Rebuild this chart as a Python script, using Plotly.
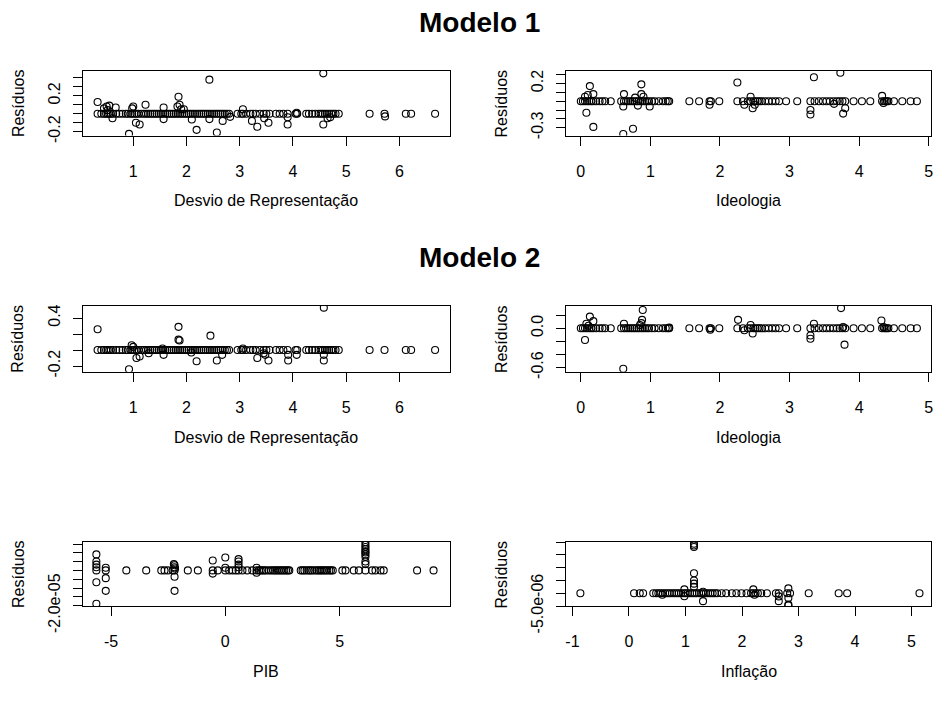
import plotly.graph_objects as go

W, H = 938, 713

# ---------------- data ----------------
# Desvio de Representação – Modelo 1 residuals
desvio_m1 = [
    (0.33, 0), (0.40, 0), (0.45, 0), (0.49, 0), (0.52, 0), (0.55, 0), (0.58, 0), (0.62, 0), (0.68, 0),
    (0.74, 0), (0.80, 0), (0.86, 0), (0.90, 0), (0.95, 0), (0.98, 0), (1.02, 0), (1.06, 0), (1.10, 0),
    (1.15, 0), (1.20, 0), (1.24, 0), (1.28, 0), (1.32, 0), (1.36, 0), (1.40, 0), (1.44, 0), (1.48, 0),
    (1.52, 0), (1.56, 0), (1.60, 0), (1.64, 0), (1.68, 0), (1.72, 0), (1.76, 0), (1.80, 0), (1.84, 0),
    (1.88, 0), (1.92, 0), (1.96, 0), (2.00, 0), (2.04, 0), (2.08, 0), (2.12, 0), (2.16, 0), (2.20, 0),
    (2.24, 0), (2.28, 0), (2.32, 0), (2.36, 0), (2.40, 0), (2.44, 0), (2.48, 0), (2.52, 0), (2.56, 0),
    (2.60, 0), (2.64, 0), (2.68, 0), (2.72, 0), (2.76, 0), (2.80, 0), (2.96, 0), (3.03, 0), (3.06, 0),
    (3.12, 0), (3.20, 0), (3.25, 0), (3.30, 0), (3.38, 0), (3.45, 0), (3.50, 0), (3.56, 0), (3.68, 0),
    (3.75, 0), (3.82, 0), (3.90, 0), (4.05, 0), (4.08, 0), (4.25, 0), (4.30, 0), (4.36, 0), (4.42, 0),
    (4.48, 0), (4.52, 0), (4.56, 0), (4.60, 0), (4.64, 0), (4.68, 0), (4.72, 0), (4.76, 0), (4.80, 0),
    (4.86, 0), (5.44, 0), (5.72, 0), (6.12, 0), (6.22, 0), (6.67, 0),
    (0.33, 0.13), (0.45, 0.06), (0.50, 0.08), (0.55, 0.09), (0.52, 0.04), (0.61, -0.05), (0.67, 0.07),
    (0.92, -0.225), (0.98, 0.06), (1.00, 0.08), (1.05, -0.10), (1.12, -0.12), (1.23, 0.10), (1.57, 0.07),
    (1.57, -0.06), (1.85, 0.19), (1.83, 0.08), (1.87, 0.10), (1.90, 0.05), (1.95, 0.05), (2.10, -0.065),
    (2.19, -0.18), (2.43, 0.38), (2.43, -0.06), (2.57, -0.21), (2.68, -0.08), (2.82, -0.035), (3.06, 0.05),
    (3.23, -0.08), (3.33, -0.145), (3.46, -0.05), (3.54, -0.10), (3.90, -0.12), (3.90, -0.04), (4.07, 0.01),
    (4.57, 0.45), (4.57, -0.12), (4.65, -0.05), (4.70, -0.04), (5.73, -0.03),
]

# Ideologia – Modelo 1 residuals
ideologia_m1 = [
    (0.00, 0), (0.03, 0), (0.06, 0), (0.09, 0), (0.12, 0), (0.15, 0), (0.18, 0), (0.22, 0), (0.27, 0),
    (0.31, 0), (0.35, 0), (0.43, 0), (0.58, 0), (0.62, 0), (0.65, 0), (0.68, 0), (0.71, 0), (0.74, 0),
    (0.77, 0), (0.80, 0), (0.83, 0), (0.86, 0), (0.89, 0), (0.92, 0), (0.95, 0), (0.98, 0), (1.02, 0),
    (1.06, 0), (1.12, 0), (1.18, 0), (1.22, 0), (1.25, 0), (1.27, 0), (1.56, 0), (1.70, 0), (1.85, 0),
    (1.87, 0), (1.99, 0), (2.25, 0), (2.33, 0), (2.40, 0), (2.44, 0), (2.48, 0), (2.51, 0), (2.54, 0),
    (2.57, 0), (2.60, 0), (2.65, 0), (2.70, 0), (2.75, 0), (2.80, 0), (2.85, 0), (2.95, 0), (3.11, 0),
    (3.30, 0), (3.36, 0), (3.42, 0), (3.48, 0), (3.53, 0), (3.58, 0), (3.63, 0), (3.68, 0), (3.72, 0),
    (3.76, 0), (3.80, 0), (3.92, 0), (4.04, 0), (4.16, 0), (4.33, 0), (4.36, 0), (4.38, 0), (4.40, 0),
    (4.42, 0), (4.50, 0), (4.62, 0), (4.74, 0), (4.83, 0),
    (0.13, 0.17), (0.06, 0.05), (0.10, 0.07), (0.18, 0.08), (0.08, -0.13), (0.18, -0.29), (0.61, -0.37),
    (0.75, -0.31), (0.62, 0.08), (0.61, -0.06), (0.87, 0.19), (0.87, 0.08), (0.90, 0.05), (0.82, -0.05),
    (0.78, 0.04), (0.99, -0.06), (1.85, -0.04), (2.25, 0.21), (2.35, -0.04), (2.44, 0.05), (2.47, -0.08),
    (2.50, -0.04), (3.30, -0.10), (3.30, -0.15), (3.35, 0.27), (3.73, 0.32), (3.77, -0.14), (3.80, -0.08),
    (3.64, -0.03), (4.33, 0.06), (4.35, -0.02),
]

# Desvio de Representação – Modelo 2 residuals
desvio_m2 = [
    (0.33, 0), (0.40, 0), (0.45, 0), (0.49, 0), (0.52, 0), (0.55, 0), (0.58, 0), (0.62, 0), (0.68, 0),
    (0.74, 0), (0.80, 0), (0.86, 0), (0.90, 0), (0.95, 0), (0.98, 0), (1.02, 0), (1.06, 0), (1.10, 0),
    (1.15, 0), (1.20, 0), (1.24, 0), (1.28, 0), (1.32, 0), (1.36, 0), (1.40, 0), (1.44, 0), (1.48, 0),
    (1.52, 0), (1.56, 0), (1.60, 0), (1.64, 0), (1.68, 0), (1.72, 0), (1.76, 0), (1.80, 0), (1.84, 0),
    (1.88, 0), (1.92, 0), (1.96, 0), (2.00, 0), (2.04, 0), (2.08, 0), (2.12, 0), (2.16, 0), (2.20, 0),
    (2.24, 0), (2.28, 0), (2.32, 0), (2.36, 0), (2.40, 0), (2.44, 0), (2.48, 0), (2.52, 0), (2.56, 0),
    (2.60, 0), (2.64, 0), (2.68, 0), (2.72, 0), (2.76, 0), (2.80, 0), (2.96, 0), (3.03, 0), (3.06, 0),
    (3.12, 0), (3.20, 0), (3.25, 0), (3.30, 0), (3.38, 0), (3.45, 0), (3.50, 0), (3.56, 0), (3.68, 0),
    (3.75, 0), (3.82, 0), (3.90, 0), (4.05, 0), (4.08, 0), (4.25, 0), (4.30, 0), (4.36, 0), (4.42, 0),
    (4.48, 0), (4.52, 0), (4.56, 0), (4.60, 0), (4.64, 0), (4.68, 0), (4.72, 0), (4.76, 0), (4.80, 0),
    (4.86, 0), (5.44, 0), (5.72, 0), (6.12, 0), (6.22, 0), (6.67, 0),
    (0.33, 0.26), (0.92, -0.24), (0.97, 0.06), (1.00, 0.04), (1.06, -0.10), (1.12, -0.08), (1.29, -0.04),
    (1.57, -0.06), (1.55, 0.02), (1.85, 0.29), (1.85, 0.13), (1.87, 0.12), (2.09, -0.03), (2.19, -0.14),
    (2.45, 0.18), (2.57, -0.13), (2.67, -0.06), (3.06, 0.02), (3.33, -0.10), (3.45, -0.04), (3.48, -0.06),
    (3.54, -0.13), (3.91, -0.13), (3.91, -0.06), (4.07, -0.06), (4.58, 0.53), (4.58, -0.13), (4.58, -0.06),
]

# Ideologia – Modelo 2 residuals
ideologia_m2 = [
    (0.00, 0), (0.03, 0), (0.06, 0), (0.09, 0), (0.12, 0), (0.15, 0), (0.18, 0), (0.22, 0), (0.27, 0),
    (0.31, 0), (0.35, 0), (0.43, 0), (0.58, 0), (0.62, 0), (0.65, 0), (0.68, 0), (0.71, 0), (0.74, 0),
    (0.77, 0), (0.80, 0), (0.83, 0), (0.86, 0), (0.89, 0), (0.92, 0), (0.95, 0), (0.98, 0), (1.02, 0),
    (1.06, 0), (1.12, 0), (1.18, 0), (1.22, 0), (1.25, 0), (1.27, 0), (1.56, 0), (1.70, 0), (1.85, 0),
    (1.87, 0), (1.99, 0), (2.25, 0), (2.33, 0), (2.40, 0), (2.44, 0), (2.48, 0), (2.51, 0), (2.54, 0),
    (2.57, 0), (2.60, 0), (2.65, 0), (2.70, 0), (2.75, 0), (2.80, 0), (2.85, 0), (2.95, 0), (3.11, 0),
    (3.30, 0), (3.36, 0), (3.42, 0), (3.48, 0), (3.53, 0), (3.58, 0), (3.63, 0), (3.68, 0), (3.72, 0),
    (3.76, 0), (3.80, 0), (3.92, 0), (4.04, 0), (4.16, 0), (4.33, 0), (4.36, 0), (4.38, 0), (4.40, 0),
    (4.42, 0), (4.50, 0), (4.62, 0), (4.74, 0), (4.83, 0),
    (0.13, 0.18), (0.18, 0.11), (0.08, 0.07), (0.11, 0.04), (0.06, -0.18), (0.61, -0.62), (0.62, 0.07),
    (0.89, 0.28), (0.88, 0.13), (0.87, 0.08), (0.85, 0.05), (1.27, 0.01), (1.86, -0.02), (2.26, 0.13),
    (2.35, -0.03), (2.44, 0.05), (2.47, -0.08), (3.30, -0.11), (3.30, -0.16), (3.35, 0.07), (3.74, 0.31),
    (3.77, 0.02), (3.79, -0.25), (4.32, 0.12), (4.35, 0.02),
]

# PIB residuals
pib = [
    (-5.64, 0), (-5.23, 0), (-4.33, 0), (-3.46, 0), (-2.80, 0), (-2.66, 0), (-2.51, 0), (-2.30, 0),
    (-2.22, 0), (-1.64, 0), (-1.20, 0), (-0.55, 0), (-0.33, 0), (0.00, 0), (0.17, 0), (0.32, 0),
    (0.46, 0), (0.58, 0), (0.75, 0), (0.96, 0), (1.18, 0), (1.37, 0), (1.48, 0), (1.55, 0), (1.62, 0),
    (1.70, 0), (1.78, 0), (1.90, 0), (2.00, 0), (2.10, 0), (2.18, 0), (2.26, 0), (2.34, 0), (2.42, 0),
    (2.50, 0), (2.58, 0), (2.66, 0), (2.74, 0), (2.80, 0), (3.30, 0), (3.38, 0), (3.46, 0), (3.56, 0),
    (3.65, 0), (3.72, 0), (3.80, 0), (3.90, 0), (4.00, 0), (4.08, 0), (4.15, 0), (4.22, 0), (4.30, 0),
    (4.38, 0), (4.46, 0), (4.55, 0), (4.62, 0), (4.70, 0), (5.12, 0), (5.26, 0), (5.62, 0), (5.84, 0),
    (6.13, 0), (6.42, 0), (6.57, 0), (6.79, 0), (6.93, 0), (8.39, 0), (9.11, 0),
    (-5.64, 9.1e-6), (-5.64, 5.1e-6), (-5.64, 3.3e-6), (-5.64, 1.8e-6), (-5.64, -6.7e-6), (-5.64, -1.89e-5),
    (-5.23, 1.5e-6), (-5.23, -4.4e-6), (-5.23, -1.16e-5), (-2.25, 3.6e-6), (-2.22, 2.9e-6), (-2.22, 1.8e-6),
    (-2.20, 1.1e-6), (-2.22, -3.6e-6), (-2.22, -1.16e-5), (-0.55, 5.6e-6), (-0.55, -1.8e-6), (0.00, 7.3e-6),
    (0.00, 1.5e-6), (0.58, 6.4e-6), (0.58, 5.1e-6), (0.58, 3.3e-6), (0.58, 1.8e-6), (1.37, 1.5e-6),
    (1.37, -1.3e-6), (6.13, 1.6e-5), (6.13, 1.45e-5), (6.13, 1.33e-5), (6.13, 1.2e-5), (6.13, 1.09e-5),
    (6.13, 1.02e-5), (6.13, 9.1e-6), (6.13, 7.8e-6), (6.13, 5.1e-6), (6.13, 3.6e-6),
]

# Inflação residuals
inflacao = [
    (-0.86, 0), (0.09, 0), (0.19, 0), (0.25, 0), (0.43, 0), (0.48, 0), (0.52, 0), (0.56, 0), (0.60, 0),
    (0.64, 0), (0.68, 0), (0.72, 0), (0.76, 0), (0.80, 0), (0.84, 0), (0.88, 0), (0.92, 0), (0.96, 0),
    (1.00, 0), (1.04, 0), (1.08, 0), (1.12, 0), (1.16, 0), (1.20, 0), (1.24, 0), (1.28, 0), (1.32, 0),
    (1.36, 0), (1.40, 0), (1.44, 0), (1.48, 0), (1.52, 0), (1.56, 0), (1.64, 0), (1.72, 0), (1.82, 0),
    (1.90, 0), (1.99, 0), (2.08, 0), (2.16, 0), (2.20, 0), (2.24, 0), (2.28, 0), (2.34, 0), (2.44, 0),
    (2.60, 0), (2.65, 0), (2.80, 0), (2.85, 0), (3.18, 0), (3.71, 0), (3.86, 0), (5.14, 0),
    (0.59, -6e-7), (0.98, 1.5e-6), (0.98, -1.2e-6), (1.15, 1.94e-5), (1.15, 1.87e-5), (1.15, 1.81e-5),
    (1.15, 7.8e-6), (1.15, 5.0e-6), (1.15, 3.75e-6), (1.15, 2.5e-6), (1.31, -3.1e-6), (1.31, 6e-7),
    (2.20, 1.5e-6), (2.22, -6e-7), (2.65, -1.25e-6), (2.65, -3.1e-6), (2.82, 1.9e-6), (2.82, -1.9e-6),
    (2.82, -4.4e-6), (2.82, -4.8e-6),
]

# tick labels
x_ticks_desvio = [1, 2, 3, 4, 5, 6]
x_ticks_ideologia = [0, 1, 2, 3, 4, 5]
x_ticks_pib = [-5, 0, 5]
x_ticks_inflacao = [-1, 0, 1, 2, 3, 4, 5]

y_ticks_p1 = [-0.2, -0.1, 0.0, 0.1, 0.2, 0.3, 0.4]
y_text_p1 = ["-0.2", "", "", "", "0.2", "", ""]
y_ticks_p2 = [-0.3, -0.2, -0.1, 0.0, 0.1, 0.2, 0.3]
y_text_p2 = ["-0.3", "", "", "", "", "0.2", ""]
y_ticks_p3 = [-0.2, 0.0, 0.2, 0.4]
y_text_p3 = ["-0.2", "", "", "0.4"]
y_ticks_p4 = [-0.6, -0.4, -0.2, 0.0, 0.2]
y_text_p4 = ["-0.6", "", "", "0.0", ""]
y_ticks_p5 = [-2.0e-5, -1.5e-5, -1.0e-5, -5e-6, 0.0, 5e-6, 1.0e-5, 1.5e-5]
y_text_p5 = ["-2.0e-05", "", "", "", "", "", "", ""]
y_ticks_p6 = [-5e-6, 0.0, 5e-6, 1.0e-5, 1.5e-5, 2.0e-5]
y_text_p6 = ["-5.0e-06", "", "", "", "", ""]

titles = ["Modelo 1", "Modelo 2"]
x_titles = ["Desvio de Representação", "Ideologia", "Desvio de Representação", "Ideologia", "PIB", "Inflação"]
y_title = "Resíduos"

# ---------------- layout (pixel geometry) ----------------
cols = [(82.7, 450.0), (567.3, 933.0)]
rows = [(72.7, 140.0), (317.0, 386.0), (563.0, 630.0)]

panels = [
    dict(data=desvio_m1, xr=[0.064, 6.942], yr=[-0.243, 0.478], xt=x_ticks_desvio, yt=y_ticks_p1, ytt=y_text_p1),
    dict(data=ideologia_m1, xr=[-0.206, 5.033], yr=[-0.387, 0.342], xt=x_ticks_ideologia, yt=y_ticks_p2, ytt=y_text_p2),
    dict(data=desvio_m2, xr=[0.064, 6.942], yr=[-0.272, 0.556], xt=x_ticks_desvio, yt=y_ticks_p3, ytt=y_text_p3),
    dict(data=ideologia_m2, xr=[-0.206, 5.033], yr=[-0.667, 0.349], xt=x_ticks_ideologia, yt=y_ticks_p4, ytt=y_text_p4),
    dict(data=pib, xr=[-6.206, 9.81], yr=[-2.035e-5, 1.62e-5], xt=x_ticks_pib, yt=y_ticks_p5, ytt=y_text_p5),
    dict(data=inflacao, xr=[-1.106, 5.344], yr=[-5.1e-6, 2.01e-5], xt=x_ticks_inflacao, yt=y_ticks_p6, ytt=y_text_p6),
]

FONT = "Liberation Sans, Arial, sans-serif"
FS = 16
fig = go.Figure()
annotations = []

for i, p in enumerate(panels):
    n = i + 1
    r, c = divmod(i, 2)
    x0, x1 = cols[c]
    y0, y1 = rows[r]
    xs = [pt[0] for pt in p["data"]]
    ys = [pt[1] for pt in p["data"]]
    sfx = "" if n == 1 else str(n)
    fig.add_trace(go.Scatter(
        x=xs, y=ys, mode="markers", xaxis="x" + sfx, yaxis="y" + sfx,
        marker=dict(symbol="circle-open", size=7, color="black", line=dict(width=1.1, color="black")),
        showlegend=False, hoverinfo="x+y",
    ))
    common = dict(showline=True, mirror=True, linecolor="black", linewidth=1, ticks="outside",
                  ticklen=9, tickwidth=1, tickcolor="black", showgrid=False, zeroline=False,
                  tickfont=dict(family=FONT, size=FS, color="black"), fixedrange=True)
    fig.layout["xaxis" + sfx] = dict(
        domain=[x0 / W, x1 / W], anchor="y" + sfx, range=p["xr"],
        tickmode="array", tickvals=p["xt"], ticktext=[str(v) for v in p["xt"]],
        ticklabelstandoff=12, **common)
    fig.layout["yaxis" + sfx] = dict(
        domain=[1 - y1 / H, 1 - y0 / H], anchor="x" + sfx, range=p["yr"],
        tickmode="array", tickvals=p["yt"], ticktext=p["ytt"], tickangle=-90,
        ticklabelstandoff=7, **common)
    # x-axis title
    annotations.append(dict(text=x_titles[i], x=(x0 + x1) / 2 / W, y=1 - (y1 + 68) / H,
                            xref="paper", yref="paper", showarrow=False, xanchor="center", yanchor="middle",
                            font=dict(family=FONT, size=FS, color="black")))
    # y-axis title
    annotations.append(dict(text=y_title, x=(17 if c == 0 else 502) / W, y=1 - (y0 + y1) / 2 / H,
                            xref="paper", yref="paper", showarrow=False, xanchor="center", yanchor="middle",
                            textangle=-90, font=dict(family=FONT, size=FS, color="black")))

for t, ty in zip(titles, [22, 267]):
    annotations.append(dict(text="<b>" + t + "</b>", x=480 / W, y=1 - ty / H, xref="paper", yref="paper",
                            showarrow=False, xanchor="center", yanchor="middle",
                            font=dict(family=FONT, size=28, color="black")))

fig.update_layout(width=W, height=H, margin=dict(l=0, r=0, t=0, b=0),
                  paper_bgcolor="white", plot_bgcolor="white", annotations=annotations)

js = ("document.documentElement.style.cssText='margin:0;padding:0;overflow:hidden';"
      "document.body.style.cssText='margin:0;padding:0;overflow:hidden';")
fig.write_html("out.html", config={"displayModeBar": False}, post_script=js)
